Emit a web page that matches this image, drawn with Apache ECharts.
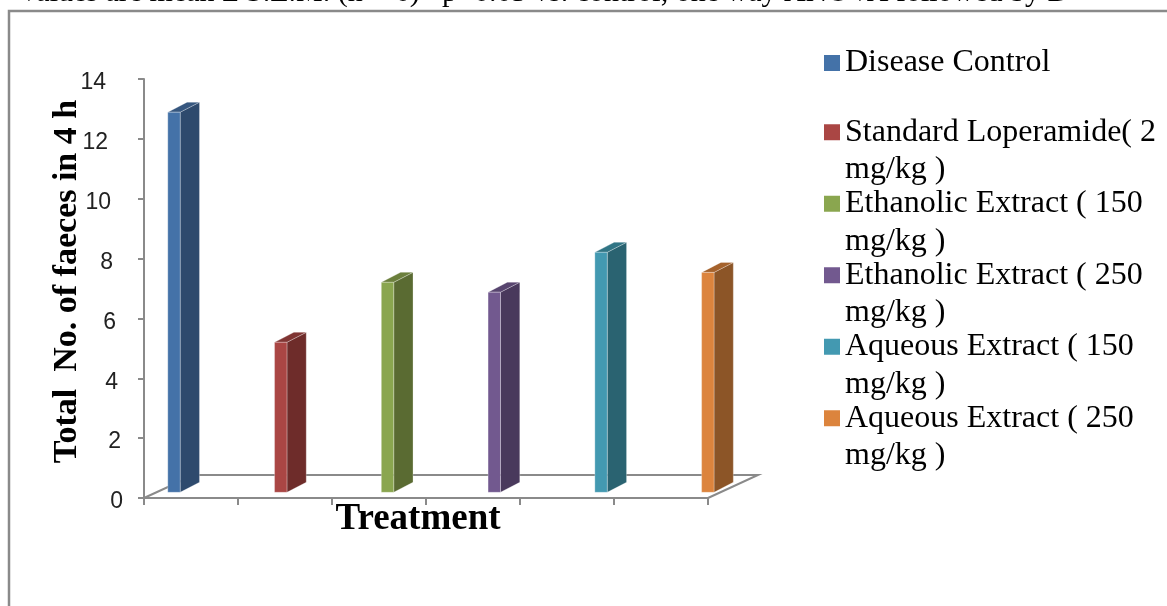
<!DOCTYPE html>
<html>
<head>
<meta charset="utf-8">
<script src="https://cdn.jsdelivr.net/npm/echarts@6/dist/echarts.min.js"></script>
<style>
  html, body { margin: 0; padding: 0; background: #ffffff; }
  #chart { width: 1167px; height: 606px; }
</style>
</head>
<body>
<div id="chart"></div>
<script>
// Treatment groups (one series each) and their mean faecal counts over 4 h
const treatments = [
  'Disease Control',
  'Standard Loperamide( 2 mg/kg )',
  'Ethanolic Extract ( 150 mg/kg )',
  'Ethanolic Extract ( 250 mg/kg )',
  'Aqueous Extract ( 150 mg/kg )',
  'Aqueous Extract ( 250 mg/kg )'
];
const legendLines = [
  ['Disease Control'],
  ['Standard Loperamide( 2', 'mg/kg )'],
  ['Ethanolic Extract ( 150', 'mg/kg )'],
  ['Ethanolic Extract ( 250', 'mg/kg )'],
  ['Aqueous Extract ( 150', 'mg/kg )'],
  ['Aqueous Extract ( 250', 'mg/kg )']
];
const faecesCount = [12.67, 5, 7, 6.67, 8, 7.33];
const slots = ['', '', '', '', '', ''];
const yTicks = [0, 2, 4, 6, 8, 10, 12, 14];
const yMin = 0, yMax = 14, yStep = 2;

const caption = 'Values are mean \u00b1 S.E.M. (n = 6) *p<0.05 vs. control, one way ANOVA followed by D';

// Face shading for the 3-D columns: front, side, top
const frontColors = ['#4472a8', '#aa4644', '#8aa64f', '#72598f', '#4399b1', '#dc843d'];
const sideColors  = ['#2e4a6d', '#6e2c2a', '#5a6b32', '#49395c', '#2a6371', '#8c5527'];
const topColors   = ['#36577f', '#803533', '#6b7f3c', '#58456f', '#317585', '#a5622c'];

const GRAY = '#8a8a8a';
const FACE_W = 12.4;   // front face width
const DEPTH_X = 19.3;  // column depth, horizontal
const DEPTH_Y = 10;    // column depth, vertical
const FLOOR_DX = 50, FLOOR_DY = 23;
const LABEL_SLANT = 17; // value labels lean outward toward the top (perspective)

function columnRenderer(idx) {
  return function (params, api) {
    const base = api.coord([api.value(0), 0]);
    const top = api.coord([api.value(0), api.value(1)]);
    const xl = base[0] - FACE_W / 2, xr = base[0] + FACE_W / 2;
    const y0 = base[1], yt = top[1];
    const edge = { stroke: 'rgba(255,255,255,0.28)', lineWidth: 1 };
    return {
      type: 'group',
      children: [
        { type: 'polygon', shape: { points: [[xr, yt], [xr + DEPTH_X, yt - DEPTH_Y], [xr + DEPTH_X, y0 - DEPTH_Y], [xr, y0]] },
          style: Object.assign({ fill: sideColors[idx] }, edge) },
        { type: 'polygon', shape: { points: [[xl, yt], [xr, yt], [xr + DEPTH_X, yt - DEPTH_Y], [xl + DEPTH_X, yt - DEPTH_Y]] },
          style: Object.assign({ fill: topColors[idx] }, edge) },
        { type: 'rect', shape: { x: xl, y: yt, width: xr - xl, height: y0 - yt },
          style: Object.assign({ fill: frontColors[idx] }, edge) }
      ]
    };
  };
}

// Floor of the 3-D plot, drawn from the axis grid
function floorRenderer(params) {
  const cs = params.coordSys;
  const xL = cs.x, xR = cs.x + cs.width, yB = cs.y + cs.height;
  return {
    type: 'polyline',
    shape: { points: [[xL, yB], [xL + FLOOR_DX, yB - FLOOR_DY], [xR + FLOOR_DX, yB - FLOOR_DY], [xR, yB]] },
    style: { fill: 'none', stroke: GRAY, lineWidth: 2 }
  };
}

const series = [{
  type: 'custom',
  xAxisIndex: 0, yAxisIndex: 0,
  z: 1, silent: true,
  data: [[0, 0]],
  renderItem: floorRenderer
}];
treatments.forEach(function (name, i) {
  series.push({
    type: 'custom',
    name: name,
    xAxisIndex: 1, yAxisIndex: 1,
    z: 2,
    itemStyle: { color: frontColors[i] },
    data: [[i, faecesCount[i]]],
    renderItem: columnRenderer(i)
  });
});

const legendData = treatments.map(function (name, i) {
  const item = { name: name };
  if (i === 0) item.textStyle = { lineHeight: 36 };
  return item;
});

// One rich style per tick so the labels follow the slanted value axis
const tickRich = {};
yTicks.forEach(function (v) {
  tickRich['t' + v] = { padding: [8, Math.round(LABEL_SLANT * (v - yMin) / (yMax - yMin)), 0, 0] };
});

const chart = echarts.init(document.getElementById('chart'), null, { renderer: 'canvas' });
chart.setOption({
  animation: false,
  backgroundColor: '#ffffff',
  graphic: [
    { type: 'rect', z: 0, silent: true,
      shape: { x: 9, y: 11, width: 1250, height: 700 },
      style: { fill: 'none', stroke: GRAY, lineWidth: 2.5 } },
    { type: 'text', silent: true, x: 18, y: -7,
      style: { text: caption, font: '30px "Liberation Serif"', fill: '#000', verticalAlign: 'middle' } }
  ],
  grid: [
    { left: 144, top: 79, width: 564, height: 419 },
    { left: 120.6, top: 72.3, width: 640.6, height: 420 }
  ],
  xAxis: [
    {
      gridIndex: 0, type: 'category', data: slots, boundaryGap: true,
      axisLine: { lineStyle: { color: GRAY, width: 2 } },
      axisTick: { show: true, interval: 0, length: 7, lineStyle: { color: GRAY, width: 2 } },
      axisLabel: { show: false },
      splitLine: { show: false },
      name: 'Treatment', nameLocation: 'middle', nameGap: 3, nameMoveOverlap: false,
      nameTextStyle: { fontFamily: 'Liberation Serif', fontWeight: 'bold', fontSize: 37, color: '#000',
                       verticalAlign: 'top', padding: [0, 16, 0, 0] }
    },
    { gridIndex: 1, type: 'category', data: slots, boundaryGap: true, show: false }
  ],
  yAxis: [
    {
      gridIndex: 0, type: 'value', min: yMin, max: yMax, interval: yStep,
      axisLine: { show: true, lineStyle: { color: GRAY, width: 2 } },
      axisTick: { show: true, length: 6, lineStyle: { color: GRAY, width: 2 } },
      axisLabel: {
        margin: 21, fontFamily: 'Liberation Sans', fontSize: 23, color: '#222',
        formatter: function (v) { return '{t' + v + '|' + v + '}'; },
        rich: tickRich
      },
      splitLine: { show: false },
      name: 'Total  No. of faeces in 4 h', nameLocation: 'middle', nameGap: 60, nameRotate: 90,
      nameMoveOverlap: false,
      nameTextStyle: { fontFamily: 'Liberation Serif', fontWeight: 'bold', fontSize: 34, color: '#000',
                       padding: [0, 0, 0, 14] }
    },
    { gridIndex: 1, type: 'value', min: yMin, max: yMax, show: false }
  ],
  legend: {
    orient: 'vertical', left: 824, top: 9, padding: 0,
    itemWidth: 16, itemHeight: 16, itemGap: -41, icon: 'rect',
    selectedMode: false,
    data: legendData,
    formatter: function (name) {
      const lines = legendLines[treatments.indexOf(name)];
      return lines.length === 1 ? '\n' + lines[0] + '\n' : '\n' + lines.join('\n');
    },
    textStyle: { fontFamily: 'Liberation Serif', fontSize: 32, color: '#000', lineHeight: 37.5 }
  },
  series: series
});
</script>
</body>
</html>
